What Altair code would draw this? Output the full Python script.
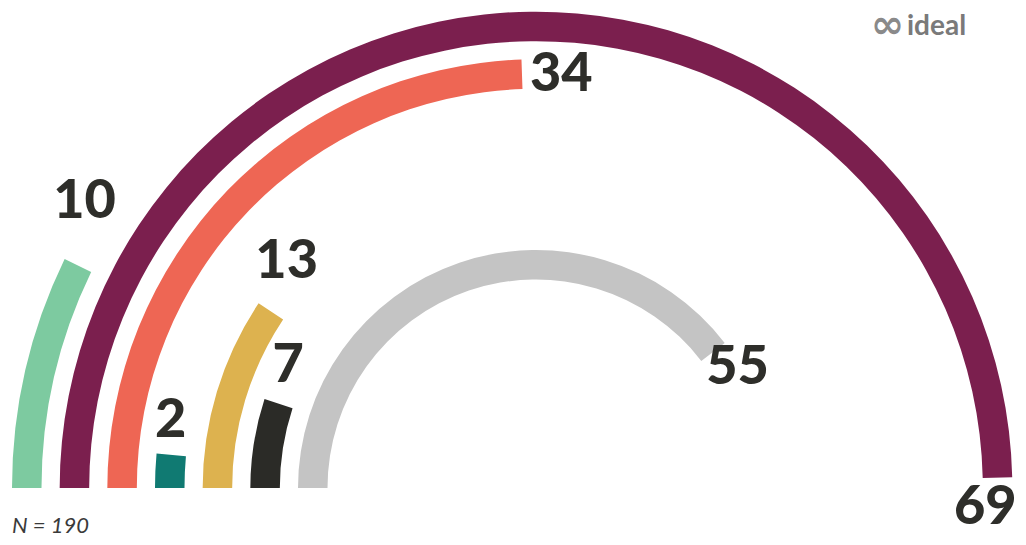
import altair as alt
import pandas as pd
import math

# ---- data ----
categories = ["A", "B", "C", "D", "E", "F", "G"]          # outer -> inner ring
values = [10, 69, 34, 2, 13, 7, 55]
colors = ["#7DCAA0", "#7B1F4E", "#EE6654", "#107A72", "#DDB24F", "#2B2B27", "#C4C4C4"]
scale_max = 69.5          # value that would fill the full half circle
n_total = 190

# ---- label placement tweaks (value units along the arc, ring units outward) ----
label_nudge = [2.5, 1.5, 2.1, 2.0, 3.3, 3.1, 2.6]
label_lift = [0.53, -0.25, 0.0, 0.11, 0.38, 0.11, 0.24]

ring_width_frac = 29.5 / 47.67
cx, cy = 528, 480

df = pd.DataFrame({"cat": categories, "value": values})
df["start"] = 0
df["ring"] = list(range(len(categories)))
df["ring_in"] = df["ring"] + ring_width_frac
df["label_t"] = df["value"] + pd.Series(label_nudge)
df["label_r"] = df["ring"] + ring_width_frac / 2 - pd.Series(label_lift)

theta_scale = alt.Scale(type="linear", domain=[0, scale_max], range=[-math.pi / 2, math.pi / 2])
radius_scale = alt.Scale(type="linear", zero=False, domain=[0, 6], range=[524, 238])
color_scale = alt.Scale(domain=categories, range=colors)

base = alt.Chart(df)

arcs = base.mark_arc(stroke=None).encode(
    theta=alt.Theta("start:Q", scale=theta_scale),
    theta2="value:Q",
    radius=alt.Radius("ring:Q", scale=radius_scale),
    radius2="ring_in:Q",
    color=alt.Color("cat:N", scale=color_scale, legend=None),
    x=alt.value(cx),
    y=alt.value(cy),
)

labels = base.mark_text(
    font="Lato", fontWeight=900, fontSize=54, color="#2E2E2A",
    align="center", baseline="middle",
).encode(
    theta=alt.Theta("label_t:Q", scale=theta_scale),
    radius=alt.Radius("label_r:Q", scale=radius_scale),
    text="value:Q",
    x=alt.value(cx),
    y=alt.value(cy),
)

note = alt.Chart(pd.DataFrame({"t": [f"N = {n_total}"]})).mark_text(
    font="Lato", fontStyle="italic", fontSize=22, color="#3A3A3A",
    align="left", baseline="alphabetic",
).encode(text="t:N", x=alt.value(4), y=alt.value(525))

logo_sym = alt.Chart(pd.DataFrame({"t": ["∞"]})).mark_text(
    font="DejaVu Sans", fontWeight="bold", fontSize=40, color="#8A8A8A",
    align="right", baseline="middle",
).encode(text="t:N", x=alt.value(896), y=alt.value(18))

logo_txt = alt.Chart(pd.DataFrame({"t": ["ideal"]})).mark_text(
    font="Lato", fontWeight="bold", fontSize=28, color="#7A7A7A",
    align="left", baseline="alphabetic",
).encode(text="t:N", x=alt.value(899), y=alt.value(27))

chart = alt.layer(arcs, labels, note, logo_sym, logo_txt).properties(
    width=1010, height=529, padding=0, autosize=alt.AutoSizeParams(type="none")
).configure_view(stroke=None)

chart.save("out.html", embed_options={"renderer": "svg", "actions": False})
